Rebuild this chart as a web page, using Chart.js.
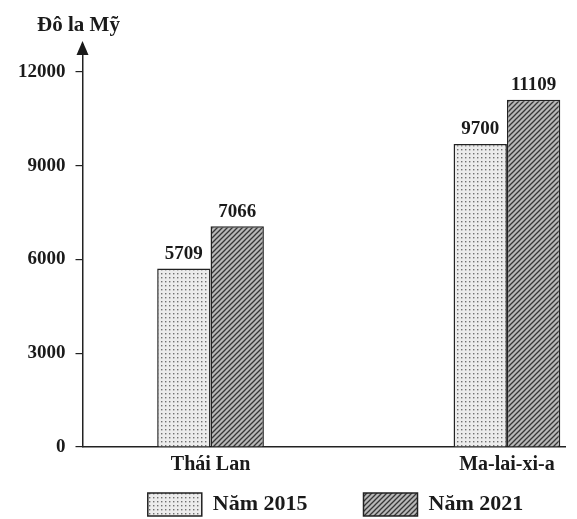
<!DOCTYPE html>
<html>
<head>
<meta charset="utf-8">
<script src="https://cdn.jsdelivr.net/npm/chart.js@4"></script>
<style>
  html, body { margin: 0; padding: 0; background: #fff; }
  #wrap { width: 577px; height: 519px; }
</style>
</head>
<body>
<div id="wrap"><canvas id="chart" width="577" height="519"></canvas></div>
<script>
// Chart data
const categories = ['Thái Lan', 'Ma-lai-xi-a'];
const nam2015 = [5709, 9700];
const nam2021 = [7066, 11109];
const yTicks = [0, 3000, 6000, 9000, 12000];
const seriesNames = ['Năm 2015', 'Năm 2021'];
const yUnit = 'Đô la Mỹ';

const FONT = '"Liberation Serif", "Times New Roman", serif';
const INK = '#1a1a1a';
const LEGEND_BOX_H = 23;

// Fill patterns: dotted for 2015, diagonal hatch for 2021
function dotPattern() {
  const c = document.createElement('canvas');
  c.width = 4; c.height = 4;
  const g = c.getContext('2d');
  g.fillStyle = '#ececec';
  g.fillRect(0, 0, 4, 4);
  g.fillStyle = '#707070';
  g.fillRect(1, 1, 1.4, 1.4);
  return g.createPattern(c, 'repeat');
}
function hatchPattern() {
  const c = document.createElement('canvas');
  c.width = 5; c.height = 5;
  const g = c.getContext('2d');
  g.fillStyle = '#b8b8b8';
  g.fillRect(0, 0, 5, 5);
  g.strokeStyle = '#363636';
  g.lineWidth = 1.3;
  g.beginPath();
  g.moveTo(-1, 6); g.lineTo(6, -1);
  g.moveTo(-1, 1); g.lineTo(1, -1);
  g.moveTo(4, 6); g.lineTo(6, 4);
  g.stroke();
  return g.createPattern(c, 'repeat');
}

const toPoints = arr => arr.map((v, i) => ({ x: i + 1, y: v }));

// Value labels above bars, unit label and arrow on the y axis
const extras = {
  id: 'extras',
  afterLayout(chart) {
    // wide item gap in the legend, but keep the row near the bottom edge,
    // and centred under the right part of the plot like the original
    const lg = chart.legend;
    if (!lg) return;
    const pad = lg.options.labels.padding;
    lg.top = chart.height - 3 - LEGEND_BOX_H - pad;
    lg.left += 49; lg.right += 49;
  },
  afterDatasetsDraw(chart) {
    const ctx = chart.ctx;
    ctx.save();
    ctx.font = 'bold 19px ' + FONT;
    ctx.fillStyle = INK;
    ctx.textAlign = 'center';
    ctx.textBaseline = 'bottom';
    chart.data.datasets.forEach((ds, di) => {
      chart.getDatasetMeta(di).data.forEach((bar, i) => {
        ctx.fillText(String(ds.data[i].y), bar.x, bar.y - 5);
      });
    });
    ctx.restore();
  },
  afterDraw(chart) {
    const ctx = chart.ctx;
    const area = chart.chartArea;
    const x = area.left;
    ctx.save();
    ctx.fillStyle = INK;
    ctx.beginPath();
    ctx.moveTo(x, area.top - 4);
    ctx.lineTo(x - 6, area.top + 10);
    ctx.lineTo(x + 6, area.top + 10);
    ctx.closePath();
    ctx.fill();
    ctx.font = 'bold 21px ' + FONT;
    ctx.textAlign = 'center';
    ctx.textBaseline = 'middle';
    ctx.fillText(yUnit, x - 4, 26);
    ctx.restore();
  }
};

new Chart(document.getElementById('chart'), {
  type: 'bar',
  data: {
    datasets: [
      {
        label: seriesNames[0],
        data: toPoints(nam2015),
        backgroundColor: dotPattern(),
        borderColor: '#222',
        borderWidth: 1.5,
        categoryPercentage: 0.36,
        barPercentage: 1
      },
      {
        label: seriesNames[1],
        data: toPoints(nam2021),
        backgroundColor: hatchPattern(),
        borderColor: '#222',
        borderWidth: 1.5,
        categoryPercentage: 0.36,
        barPercentage: 1
      }
    ]
  },
  options: {
    responsive: false,
    animation: false,
    devicePixelRatio: 1,
    layout: { padding: { top: 45, left: 8, right: 12, bottom: 0 } },
    plugins: {
      tooltip: { enabled: false },
      legend: {
        position: 'bottom',
        fullSize: true,
        maxHeight: 36,
        labels: {
          boxWidth: 54,
          boxHeight: LEGEND_BOX_H,
          padding: 56,
          color: INK,
          font: { family: FONT, size: 22, weight: 'bold' }
        }
      }
    },
    scales: {
      x: {
        type: 'linear',
        offset: false,
        min: 0.568,
        max: 2.196,
        afterBuildTicks(scale) {
          scale.ticks = categories.map((c, i) => ({ value: i + 1 }));
        },
        grid: { display: false, drawTicks: false, offset: false },
        border: { display: true, color: '#222', width: 1.5 },
        ticks: {
          padding: 6,
          color: INK,
          font: { family: FONT, size: 20, weight: 'bold' },
          callback: v => categories[v - 1]
        }
      },
      y: {
        min: 0,
        max: 12864,
        afterBuildTicks(scale) {
          scale.ticks = yTicks.map(v => ({ value: v }));
        },
        grid: { drawOnChartArea: false, drawTicks: true, tickLength: 7, color: '#222', lineWidth: 1.2 },
        border: { display: true, color: '#222', width: 1.5 },
        ticks: {
          padding: 10,
          color: INK,
          font: { family: FONT, size: 19, weight: 'bold' },
          callback: v => String(v)
        }
      }
    }
  },
  plugins: [extras]
});
</script>
</body>
</html>
